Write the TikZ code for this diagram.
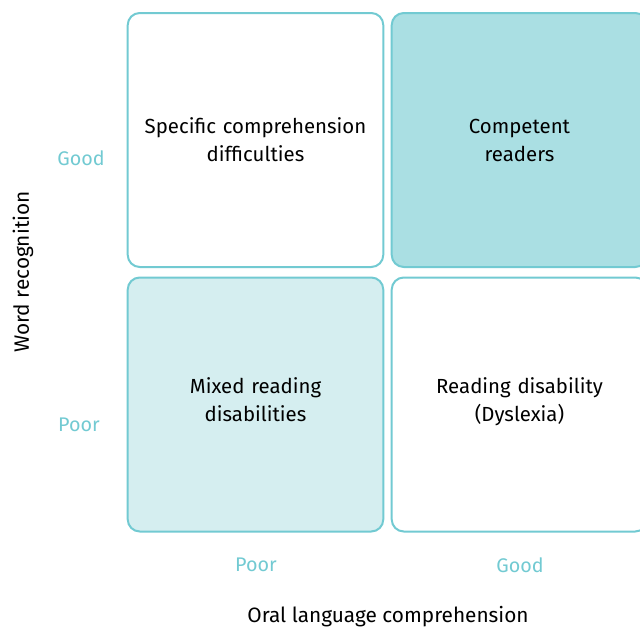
\documentclass[tikz,border=0pt]{standalone}
\usepackage{fontspec}
\setmainfont{Fira Sans}
\definecolor{teal1}{HTML}{72CAD2}
\definecolor{tealdark}{HTML}{AADFE3}
\definecolor{teallight}{HTML}{D5EEF0}
\newcommand{\lowstrut}{\rule[-7pt]{0pt}{7pt}}
\begin{document}
\begin{tikzpicture}[x=0.75pt,y=-0.75pt,
  quad/.style={draw=teal1,line width=1.5pt,rounded corners=9pt,minimum width=190.5pt,minimum height=190.5pt,
    align=center,font=\fontsize{15.3}{21}\selectfont,text width=185pt},
  axlab/.style={text=teal1,font=\fontsize{14.8}{18}\selectfont},
  axtitle/.style={font=\fontsize{15.6}{19}\selectfont}]
\useasboundingbox (0,0) rectangle (640,628);
% quadrants
\node [quad] (sc) at (255.5,140) {Specific comprehension\\difficulties};
\node [quad,fill=tealdark] (cr) at (519.5,140) {Competent\\readers};
\node [quad,fill=teallight] (md) at (255.5,404.5) {Mixed reading\\disabilities\lowstrut};
\node [quad] (rd) at (519.5,404.5) {Reading disability\\(Dyslexia)\lowstrut};
% axis labels
\node [axlab] (wgood) at (81,158) {Good};
\node [axlab] (wpoor) at (79,425) {Poor};
\node [axlab] (opoor) at (256,565) {Poor};
\node [axlab] (ogood) at (520,565) {Good};
\node [axtitle] (oral) at (388,617) {Oral language comprehension};
\node [axtitle,rotate=90] (word) at (23,272) {Word recognition};
\end{tikzpicture}
\end{document}
